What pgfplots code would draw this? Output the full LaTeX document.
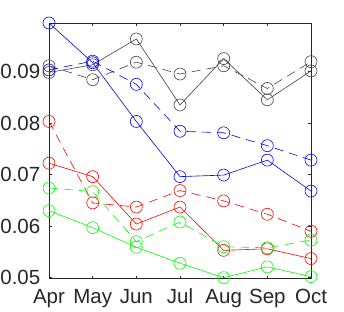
\documentclass[border=0pt]{standalone}
\usepackage{fontspec}
\setmainfont{Liberation Sans}
\usepackage{pgfplots}
\pgfplotsset{compat=1.18}
\definecolor{mgray}{gray}{0.25}
\definecolor{axgray}{gray}{0.15}
\definecolor{mgreen}{rgb}{0,1,0}
\begin{document}
\begin{tikzpicture}
\begin{axis}[
  scale only axis, width=262pt, height=255.7pt,
  xmin=0, xmax=6, ymin=0.0498, ymax=0.0994,
  scaled y ticks=false,
  xtick={0,1,2,3,4,5,6},
  xticklabels={Apr,May,Jun,Jul,Aug,Sep,Oct},
  ytick={0.05,0.06,0.07,0.08,0.09},
  yticklabels={0.05,0.06,0.07,0.08,0.09},
  tick align=inside, major tick length=3pt,
  axis line style={axgray, line width=0.6pt},
  tick style={axgray, line width=0.6pt},
  ticklabel style={font=\fontsize{20.5}{24}\selectfont, text=axgray},
  yticklabel style={anchor=east, inner sep=0pt, xshift=-8.5pt},
  xticklabel style={anchor=north, inner sep=0pt, yshift=-10pt, text height=15pt, text depth=4pt},
  clip=false,
  every axis plot/.append style={line width=0.6pt, mark=o, mark size=6pt, mark options={solid, line width=0.6pt}},
]
% black solid
\addplot[mgray] coordinates {(0,0.0898) (1,0.0913) (2,0.0963) (3,0.0835) (4,0.0925) (5,0.0845) (6,0.0901)};
% black dashed
\addplot[mgray, dash pattern=on 9pt off 6pt] coordinates {(0,0.0911) (1,0.0884) (2,0.0918) (3,0.0895) (4,0.0911) (5,0.0867) (6,0.0919)};
% blue solid
\addplot[blue] coordinates {(0,0.0994) (1,0.0917) (2,0.0803) (3,0.0696) (4,0.0699) (5,0.0728) (6,0.0668)};
% blue dashed
\addplot[blue, dash pattern=on 9pt off 6pt] coordinates {(0,0.0903) (1,0.0920) (2,0.0875) (3,0.0784) (4,0.0781) (5,0.0756) (6,0.0728)};
% red solid
\addplot[red] coordinates {(0,0.0722) (1,0.0696) (2,0.0604) (3,0.0637) (4,0.0553) (5,0.0556) (6,0.0537)};
% red dashed
\addplot[red, dash pattern=on 9pt off 6pt] coordinates {(0,0.0803) (1,0.0645) (2,0.0637) (3,0.0669) (4,0.0649) (5,0.0623) (6,0.0590)};
% green solid
\addplot[mgreen] coordinates {(0,0.0630) (1,0.0597) (2,0.0559) (3,0.0528) (4,0.0500) (5,0.0521) (6,0.0502)};
% green dashed
\addplot[mgreen, dash pattern=on 9pt off 6pt] coordinates {(0,0.0674) (1,0.0667) (2,0.0570) (3,0.0608) (4,0.0560) (5,0.0558) (6,0.0573)};
\end{axis}
\pgfresetboundingbox
\path ([xshift=-49pt,yshift=-33.3pt]current axis.south west) rectangle ([xshift=33pt,yshift=23pt]current axis.north east);
\end{tikzpicture}
\end{document}
